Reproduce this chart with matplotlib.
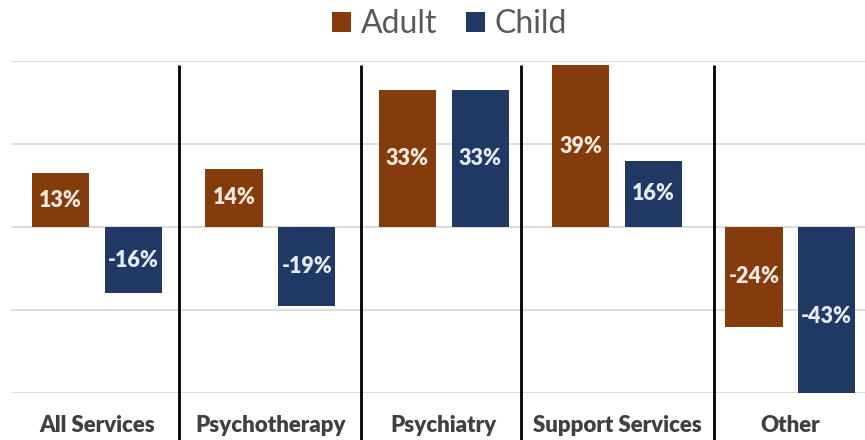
import matplotlib
matplotlib.use('Agg')
import matplotlib.pyplot as plt
import numpy as np

categories = ['All Services', 'Psychotherapy', 'Psychiatry', 'Support Services', 'Other']
adult = [13, 14, 33, 39, -24]
child = [-16, -19, 33, 16, -43]
separators = [0.47, 1.52, 2.445, 3.56]

adult_color = '#843C0C'
child_color = '#1F3864'

plt.rcParams['font.family'] = ['Lato', 'DejaVu Sans']

fig = plt.figure(figsize=(8.65, 4.4), dpi=100)
ax = fig.add_axes([11 / 865, 1 - 393 / 440, 854 / 865, 332 / 440])

x = np.arange(len(categories))
w = 0.33
off = 0.21
b1 = ax.bar(x - off, adult, w, color=adult_color, label='Adult', zorder=3)
b2 = ax.bar(x + off, child, w, color=child_color, label='Child', zorder=3)

for xi, v in zip(x - off, adult):
    ax.text(xi, v / 2, f'{v}%', ha='center', va='center', color='#F3E8DE',
            fontsize=15.5, fontweight='heavy', zorder=4)
for xi, v in zip(x + off, child):
    ax.text(xi, v / 2, f'{v}%', ha='center', va='center', color='#E4E9F2',
            fontsize=15.5, fontweight='heavy', zorder=4)

ax.set_xlim(-0.497, 4.43)
ax.set_ylim(-40, 40)
ax.set_yticks([-40, -20, 0, 20, 40])
ax.yaxis.grid(True, color='#D9D9D9', linewidth=1.3, zorder=0)
ax.set_yticklabels([])
ax.tick_params(axis='y', length=0)
for s in ax.spines.values():
    s.set_visible(False)

ax.set_xticks(x)
ax.set_xticklabels(categories, fontsize=16, fontweight='heavy', color='#404040')
ax.tick_params(axis='x', length=0, pad=16)

ax.vlines(separators, -51.5, 39, colors='black', linewidth=2, clip_on=False, zorder=5)

fig.legend(handles=[b1, b2], loc='center', bbox_to_anchor=(0.52, 1 - 24 / 440),
           ncol=2, frameon=False, fontsize=23, handlelength=0.6, handleheight=0.6,
           handletextpad=0.3, columnspacing=0.9, labelcolor='#595959')

fig.savefig('out.png', dpi=100)
